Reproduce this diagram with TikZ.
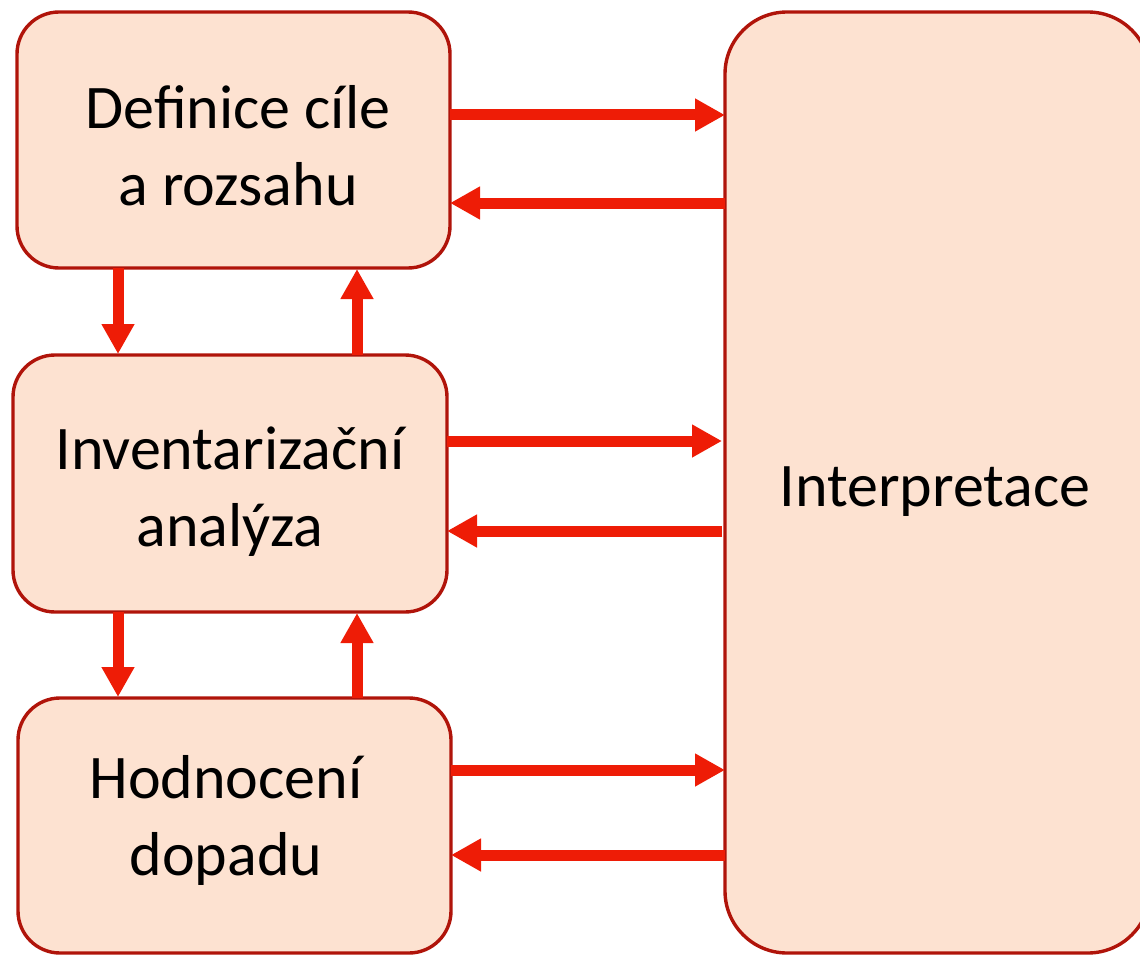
\documentclass[tikz,border=0pt]{standalone}
\usepackage{fontspec}
\setmainfont{Carlito}
\usetikzlibrary{arrows.meta}
\definecolor{boxfill}{HTML}{FDE2D1}
\definecolor{boxline}{HTML}{B0140A}
\definecolor{arr}{HTML}{EE1C06}
\begin{document}
\begin{tikzpicture}[x=1pt,y=-1pt,
  stage/.style={draw=boxline,fill=boxfill,line width=3.4pt,rounded corners=42pt},
  label/.style={font=\fontsize{62}{77}\selectfont,align=center},
  flow/.style={draw=arr,line width=11pt,-{Triangle[width=31pt,length=30pt]}}]
\useasboundingbox (0,0) rectangle (1140,955);
\begin{scope}
\clip (0,0) rectangle (1140,955);
\filldraw[draw=boxline,fill=boxfill,line width=3.4pt,rounded corners=62pt] (725,12) rectangle (1150,953);
\end{scope}
\node[label] (interp) at (935,492) {Interpretace};
\draw[stage] (17,12) rectangle (450,268);
\node[label] (def) at (238,146) {Definice cíle\\a rozsahu};
\draw[stage] (13,355) rectangle (447,612);
\node[label] (inv) at (230,492) {Inventarizační\\analýza};
\draw[stage] (18,698) rectangle (451,953);
\node[label] (hod) at (226,820) {Hodnocení\\dopadu};
% horizontal
\coordinate (a1s) at (450,115); \coordinate (a1e) at (725,115);
\coordinate (b1s) at (725,203); \coordinate (b1e) at (450,203);
\coordinate (a2s) at (447,441); \coordinate (a2e) at (722,441);
\coordinate (b2s) at (722,531); \coordinate (b2e) at (447,531);
\coordinate (a3s) at (451,770); \coordinate (a3e) at (725,770);
\coordinate (b3s) at (725,855); \coordinate (b3e) at (451,855);
\draw[flow] (a1s) -- (a1e);
\draw[flow] (b1s) -- (b1e);
\draw[flow] (a2s) -- (a2e);
\draw[flow] (b2s) -- (b2e);
\draw[flow] (a3s) -- (a3e);
\draw[flow] (b3s) -- (b3e);
% vertical
\coordinate (d1s) at (118,268); \coordinate (d1e) at (118,354);
\coordinate (u1s) at (357,355); \coordinate (u1e) at (357,269);
\coordinate (d2s) at (118,612); \coordinate (d2e) at (118,697);
\coordinate (u2s) at (357,698); \coordinate (u2e) at (357,613);
\draw[flow] (d1s) -- (d1e);
\draw[flow] (u1s) -- (u1e);
\draw[flow] (d2s) -- (d2e);
\draw[flow] (u2s) -- (u2e);
\end{tikzpicture}
\end{document}
